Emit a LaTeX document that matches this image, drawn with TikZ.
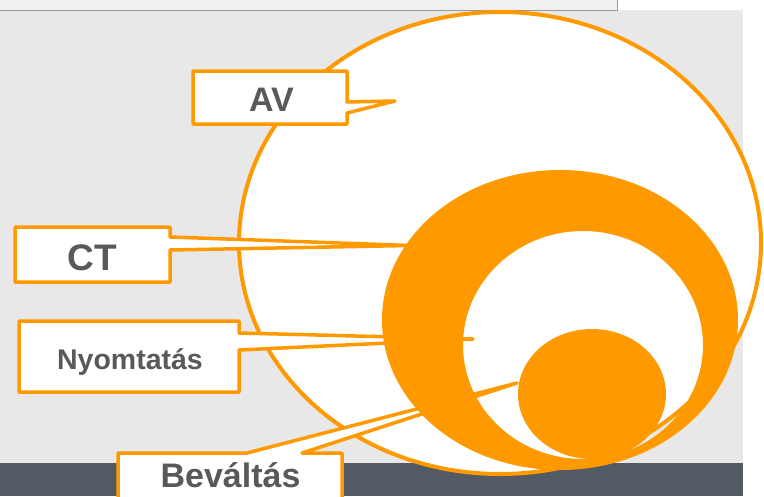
\documentclass[tikz,border=0pt]{standalone}
\usepackage{fontspec}
\setmainfont{Liberation Sans}
\definecolor{org}{HTML}{FF9900}
\definecolor{bggray}{HTML}{E8E8E8}
\definecolor{topgray}{HTML}{F0F0F0}
\definecolor{linegray}{HTML}{9A9A9A}
\definecolor{darkband}{HTML}{525A63}
\definecolor{txtgray}{HTML}{595959}
\tikzset{
  boxnode/.style={draw=none, fill=none, inner sep=0pt, outer sep=0pt, rectangle},
  calloutline/.style={draw=org, fill=white, line width=3.5pt, line join=round},
  lbl/.style={anchor=base, inner sep=0pt, text=txtgray, font=\bfseries},
}
\begin{document}
\begin{tikzpicture}[x=1pt,y=-1pt]
\useasboundingbox (0,0) rectangle (764,496);
% background
\fill[white] (0,0) rectangle (764,496);
\fill[bggray] (0,10) rectangle (743,463);
\fill[topgray] (0,0) rectangle (617,10);
\draw[linegray, line width=1pt] (0,10) -- (617,10) -- (617,0);
\fill[darkband] (0,463) rectangle (743,496);
% outer circle (AV)
\draw[org, line width=4pt, fill=white] (500,243) ellipse [x radius=261pt, y radius=231pt];
% AV callout
\node[boxnode, minimum width=154pt, minimum height=53pt] (av) at (270,97.5) {};
\coordinate (avtip) at (395,101);
\draw[calloutline] (av.north west) -- (av.north east) -- ([yshift=-4.5pt]av.east) -- (avtip) -- ([yshift=-15.5pt]av.east) -- (av.south east) -- (av.south west) -- cycle;
\node[lbl, font=\bfseries\fontsize{34pt}{40pt}\selectfont] (avt) at (271.5,111) {AV};
% CT callout
\node[boxnode, minimum width=155pt, minimum height=55pt] (ct) at (92.5,254.5) {};
\coordinate (cttip) at (410,245.5);
\draw[calloutline] (ct.north west) -- (ct.north east) -- ([yshift=17.5pt]ct.east) -- (cttip) -- ([yshift=4.5pt]ct.east) -- (ct.south east) -- (ct.south west) -- cycle;
\node[lbl, font=\bfseries\fontsize{37pt}{44pt}\selectfont] (ctt) at (92.5,270) {CT};
% Nyomtatas callout
\node[boxnode, minimum width=220pt, minimum height=71pt] (ny) at (129,356.5) {};
\coordinate (nytip) at (473,339);
\draw[calloutline] (ny.north west) -- (ny.north east) -- ([yshift=23.5pt]ny.east) -- (nytip) -- ([yshift=6.5pt]ny.east) -- (ny.south east) -- (ny.south west) -- cycle;
\node[lbl, font=\bfseries\fontsize{28.5pt}{34pt}\selectfont] (nyt) at (130,369) {Nyomtatás};
% Bevaltas callout
\node[boxnode, minimum width=224pt, minimum height=57pt] (bv) at (230,481.5) {};
\coordinate (bvtip) at (517,383);
\draw[calloutline] (bv.north west) -- ([xshift=17pt]bv.north) -- (bvtip) -- ([xshift=72pt]bv.north) -- (bv.north east) -- (bv.south east) -- (bv.south west) -- cycle;
\node[lbl, font=\bfseries\fontsize{34pt}{40pt}\selectfont] (bvt) at (230.5,487) {Beváltás};
% orange ring (CT) and inner disc (Bevaltas)
\fill[org, even odd rule] (560,320) ellipse [x radius=178pt, y radius=150pt] (583,345) ellipse [x radius=120pt, y radius=114pt];
\fill[org] (592,394) ellipse [x radius=74pt, y radius=65pt];
\end{tikzpicture}
\end{document}
